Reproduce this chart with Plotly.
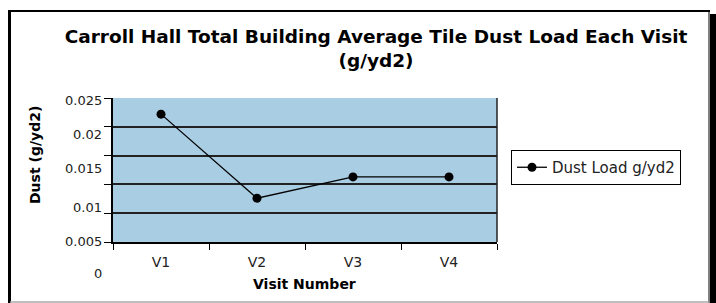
import plotly.graph_objects as go

# ---- data ----
visits = ["V1", "V2", "V3", "V4"]
dust_load = [0.0222, 0.0076, 0.0113, 0.0113]
series_name = "Dust Load g/yd2"
y_tick_labels = ["0.025", "0.02", "0.015", "0.01", "0.005", "0"]

W, H = 716, 303
L, R, T, B = 113, 497, 98, 242  # plot area pixel bounds


def px(x):
    return (x - L) / (R - L)


def py(y):
    return (B - y) / (B - T)


FONT = "DejaVu Sans"

fig = go.Figure()
fig.add_trace(go.Scatter(
    x=visits, y=dust_load, mode="lines+markers", name=series_name,
    line=dict(color="black", width=1.3),
    marker=dict(symbol="circle", size=9, color="black"),
))

# y tick labels drawn as annotations (positions as in reference)
label_pix = [100, 134, 168, 207, 241, 273]
annotations = []
for txt, yp in zip(y_tick_labels, label_pix):
    annotations.append(dict(
        text=txt, xref="paper", yref="paper", x=px(104), y=py(yp),
        xanchor="right", yanchor="middle", showarrow=False,
        font=dict(family=FONT, size=13, color="#222"),
    ))
annotations.append(dict(
    text="<b>Dust (g/yd2)</b>", xref="paper", yref="paper", x=px(35), y=py(155),
    xanchor="center", yanchor="middle", textangle=-90, showarrow=False,
    font=dict(family=FONT, size=14, color="black"),
))
annotations.append(dict(
    text="<b>Visit Number</b>", xref="paper", yref="paper", x=px(304), y=py(284),
    xanchor="center", yanchor="middle", showarrow=False,
    font=dict(family=FONT, size=14, color="black"),
))

shapes = [
    # outer frame
    dict(type="line", xref="paper", yref="paper", x0=px(9.5), x1=px(9.5), y0=py(10), y1=py(303),
         line=dict(color="black", width=3)),
    dict(type="line", xref="paper", yref="paper", x0=px(8), x1=px(710), y0=py(11), y1=py(11),
         line=dict(color="black", width=2)),
    dict(type="line", xref="paper", yref="paper", x0=px(709), x1=px(709), y0=py(10), y1=py(303),
         line=dict(color="black", width=1)),
    dict(type="rect", xref="paper", yref="paper", x0=px(710), x1=px(716), y0=py(14), y1=py(303),
         fillcolor="black", line=dict(width=0)),
    dict(type="line", xref="paper", yref="paper", x0=px(10), x1=px(709), y0=py(302), y1=py(302),
         line=dict(color="#aaaaaa", width=1.5)),
    # right edge of plot area
    dict(type="line", xref="paper", yref="paper", x0=1, x1=1, y0=0, y1=1,
         line=dict(color="#222", width=1.5)),
]

fig.update_layout(
    width=W, height=H,
    margin=dict(l=L, r=W - R, t=T, b=H - B, pad=0, autoexpand=False),
    paper_bgcolor="white",
    plot_bgcolor="#a9cde3",
    font=dict(family=FONT, size=13, color="#222"),
    title=dict(
        text="<b>Carroll Hall Total Building Average Tile Dust Load Each Visit<br>(g/yd2)</b>",
        x=376 / W, xanchor="center", xref="container",
        y=1 - 43 / H, yanchor="top", yref="container",
        font=dict(family=FONT, size=18.5, color="black"),
    ),
    showlegend=True,
    legend=dict(
        x=px(511), y=py(150), xanchor="left", yanchor="top",
        bordercolor="black", borderwidth=1, bgcolor="white",
        font=dict(family=FONT, size=15, color="#222"),
        itemwidth=30,
    ),
    xaxis=dict(
        type="category", range=[-0.5, 3.5], automargin=False,
        tickson="boundaries", ticks="outside", ticklen=6, tickcolor="black",
        ticklabelstandoff=6,
        showline=True, linecolor="black", linewidth=1.5,
        showgrid=False, zeroline=False,
        tickfont=dict(family=FONT, size=14, color="#222"),
    ),
    yaxis=dict(
        range=[0, 0.025], dtick=0.005, tick0=0, automargin=False,
        showticklabels=False, ticks="outside", ticklen=7, tickcolor="black",
        showline=True, linecolor="black", linewidth=1.5,
        showgrid=True, gridcolor="#222", gridwidth=1.5, zeroline=False,
    ),
    annotations=annotations,
    shapes=shapes,
)

fig.write_html(
    "out.html",
    config={"displayModeBar": False},
    post_script="document.body.style.margin='0';document.body.style.overflow='hidden';",
)
